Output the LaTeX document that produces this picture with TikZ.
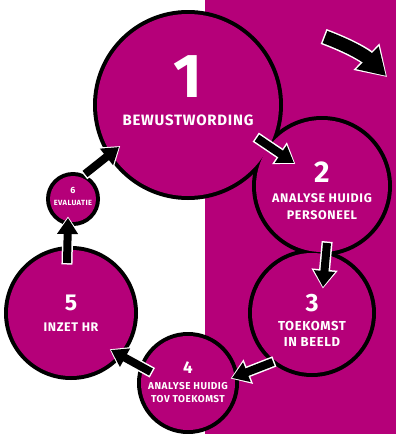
\documentclass[tikz,border=0pt]{standalone}
\usepackage{fontspec}
\setmainfont{Fira Sans}
\usetikzlibrary{arrows.meta,positioning}
\definecolor{paars}{RGB}{181,0,121}
\newcommand\maat[2]{\fontsize{#1}{#2}\selectfont}

\begin{document}
\begin{tikzpicture}[x=1pt,y=-1pt,
		stap/.style={circle,fill=paars,inner sep=0pt},
		nummer/.style={text=white,inner sep=0pt,font=\bfseries\maat{#1}{#1}},
		tekst/.style={text=white,inner sep=0pt,align=center,
			font=\bfseries#1\addfontfeature{LetterSpace=5}},
		pijl/.style={line width=8pt,-{Triangle[length=16pt,width=20pt]},
			preaction={draw=white,line width=11pt,shorten >=-1.5pt,shorten <=-1.5pt,
				-{Triangle[length=19pt,width=25pt]}}},
		grotepijl/.style={line width=13pt,-{Triangle[length=26pt,width=30pt]},
			preaction={draw=white,line width=16pt,shorten >=-1.5pt,shorten <=-1.5pt,
				-{Triangle[length=29pt,width=35pt]}}}]

		\useasboundingbox (0,0) rectangle (396,434);
		\fill[paars] (205,0) rectangle (396,434);

		% black rims first, then the fills, so touching circles merge
		\foreach \i/\x/\y/\r in {1/188/105/91,2/322/186/66,3/312/313/60,
				4/188/383/47,5/71/313/63,6/73/199/23}
			\fill (\x,\y) circle ({(\r+4)*1pt});
		\foreach \i/\x/\y/\r in {1/188/105/91,2/322/186/66,3/312/313/60,
				4/188/383/47,5/71/313/63,6/73/199/23}
			\node[stap,minimum size=2*\r*1pt] (c\i) at (\x,\y) {};

		\node[nummer=62] (n1) at ([yshift=28pt]c1) {1};
		\node[tekst=\maat{15}{19}] (t1) at ([yshift=-15pt]c1) {BEWUSTWORDING};
		\node[nummer=30] (n2) at ([yshift=14pt]c2) {2};
		\node[tekst=\maat{12.5}{17}] (t2) at ([yshift=-21pt]c2) {ANALYSE HUIDIG\\PERSONEEL};
		\node[nummer=25] (n3) at ([yshift=10pt]c3) {3};
		\node[tekst=\maat{13}{16}] (t3) at ([yshift=-21pt]c3) {TOEKOMST\\IN BEELD};
		\node[nummer=17] (n4) at ([yshift=15pt]c4) {4};
		\node[tekst=\maat{10}{13}] (t4) at ([yshift=-10pt]c4) {ANALYSE HUIDIG\\TOV TOEKOMST};
		\node[nummer=23] (n5) at ([yshift=10pt]c5) {5};
		\node[tekst=\maat{12.5}{16}] (t5) at ([yshift=-14pt]c5) {INZET HR};
		\node[nummer=9] (n6) at ([yshift=9pt]c6) {6};
		\node[tekst=\maat{7.5}{9}] (t6) at ([yshift=-4pt]c6) {EVALUATIE};

		% arrow ends
		\coordinate (p0) at (325,37);
		\coordinate (q0) at (386,76);
		\coordinate (p1) at (257,138);
		\coordinate (q1) at (294,163);
		\coordinate (p2) at (327,243);
		\coordinate (q2) at (323,287);
		\coordinate (p3) at (273,362);
		\coordinate (q3) at (232,378);
		\coordinate (p4) at (151,372);
		\coordinate (q4) at (111,350);
		\coordinate (p5) at (67,263);
		\coordinate (q5) at (68,218);
		\coordinate (p6) at (85,174);
		\coordinate (q6) at (119,147);

		\draw[grotepijl] (p0) to[bend left=12] (q0);
		\draw[pijl] (p1) -- (q1);
		\draw[pijl] (p2) -- (q2);
		\draw[pijl] (p3) -- (q3);
		\draw[pijl] (p4) -- (q4);
		\draw[pijl] (p5) -- (q5);
		\draw[pijl] (p6) -- (q6);
	\end{tikzpicture}
\end{document}
